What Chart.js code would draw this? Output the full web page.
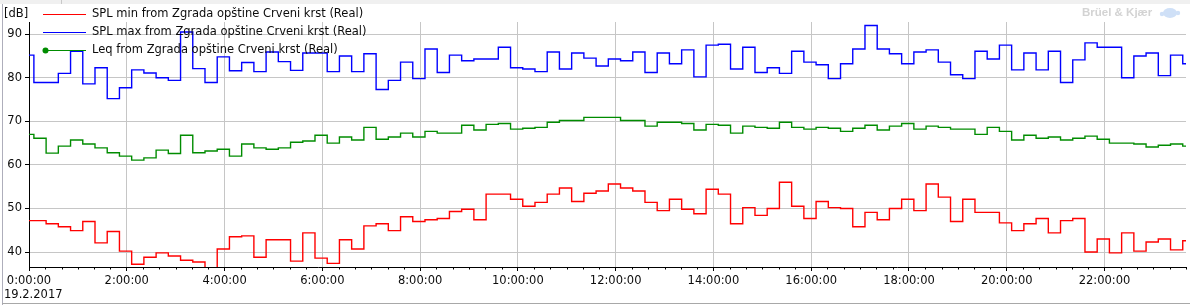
<!DOCTYPE html>
<html>
<head>
<meta charset="utf-8">
<title>SPL - Zgrada opštine Crveni krst</title>
<script src="https://cdn.jsdelivr.net/npm/chart.js@4.4.1/dist/chart.umd.min.js"></script>
<style>
  html, body { margin: 0; padding: 0; background: #fff; }
  #wrap { position: relative; width: 1190px; height: 305px; }
</style>
</head>
<body>
<div id="wrap"><canvas id="noiseChart" width="1190" height="305"></canvas></div>
<script>
// ----------------------------------------------------------------------------
// Data: 15 minute intervals, 19.2.2017 (values in dB)
// ----------------------------------------------------------------------------
const DATE_LABEL = '19.2.2017';
const UNIT_LABEL = '[dB]';
const FIRST_INTERVAL_MIN = -9;   // first interval starts 9 min before midnight
const INTERVAL_MIN = 15;
const X_TICK_LABELS = ['0:00:00', '2:00:00', '4:00:00', '6:00:00', '8:00:00', '10:00:00',
  '12:00:00', '14:00:00', '16:00:00', '18:00:00', '20:00:00', '22:00:00'];

const SERIES_NAMES = [
  'SPL min from Zgrada opštine Crveni krst (Real)',
  'SPL max from Zgrada opštine Crveni krst (Real)',
  'Leq from Zgrada opštine Crveni krst (Real)'
];

const splMin = [
  47.2, 47.2, 46.5, 45.8, 44.9, 47.0, 42.1, 44.7, 40.2, 37.2, 38.8, 39.8,
  39.1, 38.1, 37.7, 35.5, 40.7, 43.5, 43.7, 38.8, 42.8, 42.8, 37.9, 44.4,
  38.6, 37.4, 42.8, 40.7, 46.0, 46.5, 44.9, 48.1, 47.0, 47.4, 47.7, 49.3,
  49.8, 47.4, 53.3, 53.3, 52.1, 50.5, 51.4, 53.3, 54.7, 51.6, 53.5, 54.0,
  55.6, 54.7, 54.0, 51.4, 49.5, 52.1, 49.8, 48.8, 54.4, 53.3, 46.5, 50.2,
  48.4, 50.0, 56.0, 50.5, 47.7, 51.6, 50.2, 50.0, 45.8, 49.1, 47.4, 50.0,
  52.1, 49.5, 55.6, 52.6, 47.0, 52.1, 49.1, 49.1, 46.7, 44.9, 46.5, 47.7,
  44.4, 47.2, 47.7, 40.0, 43.0, 39.8, 44.4, 40.2, 42.3, 43.0, 40.5, 42.6
];

const splMax = [
  85.2, 78.9, 78.9, 81.0, 86.1, 78.6, 82.3, 75.2, 77.7, 81.8, 81.1, 80.0,
  79.4, 90.5, 82.1, 78.9, 84.8, 81.6, 83.5, 81.4, 85.9, 83.7, 81.7, 85.7,
  85.7, 81.4, 85.0, 81.4, 85.5, 77.3, 79.4, 83.6, 79.8, 86.6, 81.2, 85.2,
  83.9, 84.3, 84.3, 87.0, 82.3, 82.0, 81.4, 85.9, 82.0, 85.7, 84.5, 82.7,
  84.3, 83.9, 85.9, 81.2, 85.7, 83.2, 86.4, 80.2, 87.5, 87.7, 82.0, 87.0,
  81.2, 82.3, 81.0, 86.1, 83.6, 83.0, 79.8, 83.2, 86.6, 92.0, 86.6, 85.5,
  83.2, 85.9, 86.4, 83.6, 80.7, 79.8, 86.1, 84.3, 87.5, 81.8, 85.7, 81.8,
  86.1, 78.9, 84.1, 88.0, 87.0, 87.0, 80.0, 85.0, 85.7, 80.5, 85.2, 83.2
];

const leq = [
  67.0, 66.1, 62.7, 64.3, 65.7, 64.8, 63.9, 62.8, 62.0, 61.1, 61.6, 63.4,
  62.6, 66.8, 62.8, 63.2, 63.6, 62.0, 64.8, 63.9, 63.6, 63.9, 65.2, 65.5,
  66.8, 65.0, 66.4, 65.7, 68.6, 65.9, 66.4, 67.3, 66.4, 67.7, 67.3, 67.3,
  69.1, 68.0, 69.3, 69.5, 68.2, 68.4, 68.6, 69.8, 70.2, 70.2, 70.9, 70.9,
  70.9, 70.2, 70.2, 68.9, 69.8, 69.8, 69.5, 68.0, 69.3, 69.1, 67.3, 68.9,
  68.6, 68.4, 69.8, 68.6, 68.2, 68.6, 68.4, 67.7, 68.4, 69.1, 68.0, 68.9,
  69.5, 68.2, 68.9, 68.6, 68.2, 68.2, 67.0, 68.6, 67.7, 65.7, 66.8, 66.1,
  66.4, 65.7, 66.1, 66.6, 65.9, 65.0, 65.0, 64.8, 64.1, 64.5, 64.8, 64.3
];

// ----------------------------------------------------------------------------
// Helpers
// ----------------------------------------------------------------------------

// Turn a list of interval values into {x,y} points (x = minutes from 0:00).
// One extra point closes the last interval so the final step gets drawn.
function toSteps(values) {
  const pts = values.map((v, i) => ({ x: FIRST_INTERVAL_MIN + i * INTERVAL_MIN, y: v }));
  pts.push({ x: FIRST_INTERVAL_MIN + values.length * INTERVAL_MIN, y: values[values.length - 1] });
  return pts;
}

const FONT = 'DejaVu Sans';
const FONT_SIZE = 11.5;
const TEXT_COLOR = '#0c0c0c';
const GRID_COLOR = '#c6c6c6';

// frame, top strip, legend, unit / date text, brand mark and 20 min minor ticks
const decorations = {
  id: 'decorations',
  beforeDraw(chart) {
    const ctx = chart.ctx;
    ctx.save();
    ctx.fillStyle = '#ffffff';
    ctx.fillRect(0, 0, chart.width, chart.height);
    ctx.fillStyle = '#f0f0f0';
    ctx.fillRect(0, 0, chart.width, 4);
    ctx.fillStyle = '#c8c8c8';
    ctx.fillRect(61, 0, 1, 4);
    ctx.fillStyle = '#aeaebb';
    ctx.fillRect(2, 4, 1, chart.height - 4);
    ctx.fillStyle = '#a8a8a8';
    ctx.fillRect(2, chart.height - 2, chart.width - 2, 1);
    ctx.restore();
  },
  afterDatasetsDraw(chart) {
    const ctx = chart.ctx;
    const area = chart.chartArea;
    ctx.save();
    ctx.font = FONT_SIZE + 'px "' + FONT + '"';
    ctx.textBaseline = 'middle';
    chart.data.datasets.forEach((ds, i) => {
      const y = Math.round(area.top - 8 + i * 18) + 0.5;
      const x0 = area.left + 14, x1 = area.left + 57;
      ctx.strokeStyle = ds.borderColor;
      ctx.lineWidth = 1;
      ctx.beginPath();
      ctx.moveTo(x0, y);
      ctx.lineTo(x1, y);
      ctx.stroke();
      if (ds.legendMarker) {
        ctx.fillStyle = ds.borderColor;
        ctx.beginPath();
        ctx.arc(x0 + 2.5, y, 3, 0, Math.PI * 2);
        ctx.fill();
      }
      ctx.fillStyle = TEXT_COLOR;
      ctx.fillText(ds.label, area.left + 63, y);
    });
    ctx.restore();
  },
  afterDraw(chart) {
    const ctx = chart.ctx;
    const xs = chart.scales.x;
    const bottom = chart.chartArea.bottom;
    ctx.save();

    // minor ticks every 20 minutes
    ctx.strokeStyle = '#000';
    ctx.lineWidth = 1;
    ctx.beginPath();
    for (let m = 20; m <= xs.max; m += 20) {
      if (m % 120 === 0) continue;
      const px = Math.round(xs.getPixelForValue(m)) + 0.5;
      ctx.moveTo(px, bottom);
      ctx.lineTo(px, bottom + 2.5);
    }
    ctx.stroke();

    // unit and date text
    ctx.font = FONT_SIZE + 'px "' + FONT + '"';
    ctx.fillStyle = TEXT_COLOR;
    ctx.textBaseline = 'middle';
    ctx.textAlign = 'left';
    ctx.fillText(UNIT_LABEL, 4, 14);
    ctx.fillText(DATE_LABEL, 4, 295);

    // brand mark top right
    ctx.font = 'bold 11.5px "Liberation Sans"';
    ctx.fillStyle = '#d3d3d3';
    ctx.fillText('Brüel & Kjær', 1082, 13);
    ctx.fillStyle = '#cfe0f7';
    ctx.beginPath();
    ctx.ellipse(1170, 13, 7, 5, 0, 0, Math.PI * 2);
    ctx.fill();
    ctx.beginPath();
    ctx.arc(1162, 14, 2.2, 0, Math.PI * 2);
    ctx.arc(1178, 13, 2.2, 0, Math.PI * 2);
    ctx.fill();
    ctx.restore();
  }
};

function renderNoiseChart() {
  const canvas = document.getElementById('noiseChart');
  if (!canvas) {
    console.error('Canvas not found');
    return;
  }

  new Chart(canvas, {
    type: 'line',
    data: {
      datasets: [
        {
          label: SERIES_NAMES[0],
          data: toSteps(splMin),
          borderColor: '#ff0000',
          borderWidth: 1.4,
          stepped: 'before',
          pointRadius: 0,
          fill: false
        },
        {
          label: SERIES_NAMES[1],
          data: toSteps(splMax),
          borderColor: '#0000ff',
          borderWidth: 1.4,
          stepped: 'before',
          pointRadius: 0,
          fill: false
        },
        {
          label: SERIES_NAMES[2],
          data: toSteps(leq),
          borderColor: '#008c00',
          borderWidth: 1.4,
          stepped: 'before',
          pointRadius: 0,
          fill: false,
          legendMarker: true
        }
      ]
    },
    options: {
      responsive: false,
      animation: false,
      devicePixelRatio: 1,
      layout: { padding: { top: 22, right: 4, left: 0, bottom: 0 } },
      plugins: {
        legend: { display: false },
        tooltip: { enabled: false }
      },
      scales: {
        x: {
          type: 'linear',
          min: 0,
          max: 1420,
          afterFit: (scale) => { scale.height = 38; },
          border: { color: '#000', width: 1 },
          grid: { color: GRID_COLOR, tickColor: '#000', tickLength: 4, lineWidth: 1 },
          ticks: {
            stepSize: 120,
            includeBounds: false,
            autoSkip: false,
            maxRotation: 0,
            padding: 3,
            color: TEXT_COLOR,
            font: { family: FONT, size: FONT_SIZE },
            callback: (v) => X_TICK_LABELS[Math.round(v / 120)] || ''
          }
        },
        y: {
          type: 'linear',
          min: 36.56,
          max: 92.8,
          afterFit: (scale) => { scale.width = 29; },
          border: { color: '#000', width: 1 },
          grid: { color: GRID_COLOR, tickColor: '#000', tickLength: 4, lineWidth: 1 },
          ticks: {
            stepSize: 10,
            includeBounds: false,
            padding: 3,
            color: TEXT_COLOR,
            font: { family: FONT, size: FONT_SIZE }
          }
        }
      }
    },
    plugins: [decorations]
  });
}

if (document.readyState === 'loading') {
  document.addEventListener('DOMContentLoaded', renderNoiseChart);
} else {
  renderNoiseChart();
}
</script>
</body>
</html>
